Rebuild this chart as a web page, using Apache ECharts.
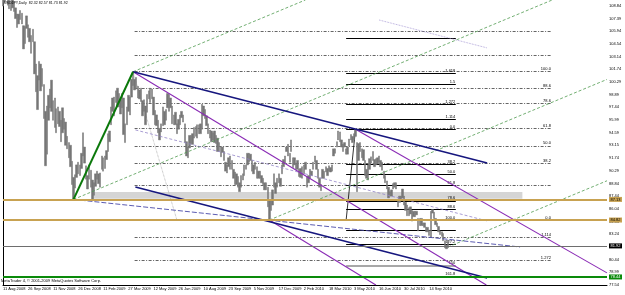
<!DOCTYPE html>
<html><head><meta charset="utf-8">
<script src="https://cdn.jsdelivr.net/npm/echarts@6/dist/echarts.min.js"></script>
<style>html,body{margin:0;padding:0;background:#fff}#c{width:625px;height:295px}</style>
</head><body><div id="c"></div>
<script>
// ---- tick labels ----
const xTickLabels = ["11 Aug 2008","26 Sep 2008","11 Nov 2008","26 Dec 2008","11 Feb 2009","27 Mar 2009","12 May 2009","26 Jun 2009","10 Aug 2009","23 Sep 2009","5 Nov 2009","17 Dec 2009","2 Feb 2010","18 Mar 2010","3 May 2010","16 Jun 2010","30 Jul 2010","14 Sep 2010"];
const yTickLabels = ["77.54","78.99","80.44","81.84","83.24","84.64","86.04","87.44","88.84","90.29","91.74","93.15","94.59","95.99","97.44","98.89","100.29","101.74","103.14","104.54","105.94","107.39","108.84"];
const barsPerLabel = 32;
const barStep = 2; // each entry covers two daily bars
// ---- USDJPY daily range (two-bar groups) ----
const lows = [
108.8,109.2,109.6,108.9,108.5,108.3,108.6,108.2,107.4,106.4,
106.8,107.3,106.8,104.0,104.6,106.3,105.3,104.8,103.5,104.8,
101.2,99.2,97.2,100.5,99.3,99.8,96.2,90.9,92.2,96.0,
97.4,97.0,96.0,95.2,94.6,95.6,95.3,93.6,94.6,95.0,
93.2,92.8,91.8,90.8,88.8,87.13,88.4,89.6,90.0,89.8,
90.6,92.0,91.2,89.4,88.3,89.4,88.5,87.1,87.6,88.6,
89.4,88.9,88.5,90.5,90.3,90.6,91.6,92.5,93.6,95.5,
97.0,96.5,98.0,97.5,97.5,96.7,97.4,94.4,93.5,95.5,
97.0,96.6,98.6,99.9,99.4,99.5,98.5,98.4,98.1,96.5,
97.0,95.5,96.9,98.4,98.0,98.4,96.6,95.5,95.4,94.6,
93.8,94.7,95.4,95.5,96.0,97.4,97.0,97.4,95.6,95.5,
95.5,94.5,95.0,95.5,96.3,95.8,93.5,92.0,91.8,92.9,
93.4,93.3,94.0,94.2,94.0,94.5,94.5,95.0,96.5,96.2,
95.4,94.5,94.0,93.6,93.8,93.5,93.4,92.5,92.5,91.9,
92.4,91.5,90.3,90.1,90.8,90.5,90.5,89.5,88.8,88.8,
88.5,88.0,88.5,89.3,89.8,90.5,91.0,91.3,91.5,90.3,
90.0,90.5,89.5,89.5,89.5,89.0,88.8,88.2,88.2,86.3,
84.82,85.9,86.5,88.5,87.8,88.5,89.0,88.6,90.0,90.8,
91.2,92.5,92.0,91.3,92.5,90.7,91.0,90.5,90.5,89.7,
89.6,89.5,90.0,90.5,88.5,89.0,89.5,89.8,90.5,91.3,
90.5,89.5,88.5,88.1,89.5,89.5,90.2,89.8,90.3,90.2,
90.3,92.0,92.3,93.0,93.8,93.6,93.0,92.5,93.0,92.2,
92.2,93.1,93.8,93.5,93.8,94.2,88.0,91.5,92.5,91.8,
91.5,89.8,89.5,89.3,90.5,91.2,91.5,90.8,91.0,91.1,
91.3,90.8,90.4,89.5,89.0,88.3,87.3,87.5,87.5,88.3,
88.5,88.3,86.3,86.8,87.0,87.3,86.5,85.9,85.3,85.3,
85.5,84.7,85.2,85.2,85.4,83.6,84.2,84.2,84.2,84.0,
83.5,83.5,83.1,82.9,85.6,85.0,84.3,84.1,83.5,83.2,
83.0,82.5,81.7,81.6,81.73];
const highs = [
109.9,110.2,110.6,110.1,109.6,109.4,109.8,109.3,108.6,107.9,
107.9,108.3,108.0,106.6,106.5,107.7,106.7,106.3,105.5,106.2,
104.8,102.3,101.0,102.6,102.3,101.8,100.0,97.0,97.6,98.8,
99.5,100.5,98.2,98.5,97.3,97.5,97.0,96.0,97.4,96.2,
95.8,94.2,93.5,93.2,91.4,89.6,89.9,91.0,91.3,91.0,
92.3,94.6,93.0,90.9,89.8,91.0,90.4,89.3,89.0,90.0,
90.3,90.0,90.1,92.0,91.8,92.0,92.6,94.5,94.8,97.5,
98.5,98.6,99.3,99.6,99.0,98.3,99.0,98.5,95.6,97.5,
98.8,98.6,100.6,101.44,100.6,100.8,99.8,99.4,99.6,98.2,
98.3,97.6,98.9,99.3,99.6,99.5,98.6,97.1,96.6,96.0,
95.1,95.6,97.5,97.0,97.2,99.0,98.9,98.5,97.6,96.6,
96.9,95.6,96.1,96.6,97.0,96.6,95.6,93.6,93.0,94.3,
94.3,94.5,95.2,95.3,95.5,95.5,95.6,97.8,97.6,97.2,
96.5,95.6,94.9,94.8,94.6,94.8,94.3,94.0,93.5,93.0,
93.0,92.5,91.3,91.0,91.8,92.0,91.5,90.5,90.2,90.0,
89.7,89.0,89.8,90.0,91.0,91.0,92.3,92.3,92.2,91.5,
91.0,91.3,90.8,90.3,90.3,89.8,89.5,89.0,89.0,88.5,
87.0,87.0,88.2,90.0,89.0,89.5,90.0,89.5,91.0,91.6,
92.0,93.0,93.3,92.3,93.8,91.8,91.8,91.2,91.5,90.5,
90.6,90.8,91.0,91.3,89.7,89.8,90.5,90.3,91.3,92.0,
91.5,90.5,89.5,88.8,90.5,90.3,90.8,90.6,90.9,90.7,
91.0,92.8,92.8,93.6,94.8,94.7,93.8,93.3,93.5,92.8,
93.0,93.9,94.4,94.2,94.5,94.99,93.5,93.4,93.5,92.8,
92.7,91.5,90.5,91.0,91.7,91.9,92.5,91.6,91.7,91.8,
92.0,91.5,91.3,90.3,89.8,89.2,88.5,88.0,88.2,88.9,
89.0,89.0,87.0,87.5,87.5,88.3,87.5,86.8,86.5,86.2,
86.3,85.9,85.8,85.8,85.8,85.0,85.0,85.0,84.5,84.5,
84.0,84.0,83.7,85.8,86.0,85.7,85.0,84.5,84.1,83.6,
83.5,83.3,82.5,82.0,82.57];
// ---- drawn objects (bar index, price) ----
const trendGreen = [[90,87.13],[166,101.44]];
const channelUpper = [[166,101.44],[618,91.22]];
const channelLower = [[169,88.53],[618,78.32]];
const channelMid = [[169,94.92],[618,84.72]];
const channelTop = [[480,107.24],[618,104.11]];
const baseDashed = [[90,87.13],[660,81.8]];
const forkPurple = [[[166,101.44],[617,77.54]],[[450,94.99],[771,78.9]],[[340,84.82],[476,77.54]]];
const greenDashed = [[[90,87.13],[701,109.48]],[[340,84.82],[771,100.58]],[[166,101.44],[386,109.48]],[[568,81.8],[771,89.22]]];
const fib1Levels = [105.96,103.33,101.44,99.55,97.88,95.09,93.13,91.17,88.74,84.82,82.93,80.30];
const fib1Labels = ['','','100.0','88.6','78.6','61.8','50.0','38.2','','0.0','1.114','1.272'];
const fib1Span = [168,700];
const fib1Diag = [[166,101.44],[222,84.82]];
const fib2Levels = [105.16,101.27,100.07,97.76,96.15,94.99,91.10,89.90,88.70,86.98,85.98,84.82,83.65,82.05,79.73,78.53];
const fib2Labels = ['','1.618','1.5','1.272','1.114','0.0','38.2','50.0','61.8','78.6','88.6','100.0','','127.2','150','161.8'];
const fib2Span = [438,578];
const fib2Diag = [[438,84.82],[450,94.99]];
const supportBand = [[114,87.95],[663,87.2]];
const hLevels = [87.13,84.82,81.92,78.44];
const hLabels = ['87.13','84.82','81.92','78.44'];
const xMax = 771;

const FONT = 'Liberation Sans';
const yTop = 108.84, yBot = 77.54;
const yHalf = (yTop - yBot) / (yTickLabels.length - 1) / 2;
const yMin = Math.round(yBot / yHalf) * yHalf - 1e-6;
const yMax = 109.48;

const hColors = [
  {line:'#c8a251', bg:'#c8a251', fg:'#000', w:2},
  {line:'#c8a251', bg:'#c8a251', fg:'#000', w:2},
  {line:'#6e6e6e', bg:'#000', fg:'#fff', w:1.2},
  {line:'#0a8a0a', bg:'#0a8a0a', fg:'#fff', w:2}
];

function segs(list){ return list.map(c => ({coords:c})); }
function linesSeries(data, style, z, extra){
  return Object.assign({type:'lines', coordinateSystem:'cartesian2d', silent:true, z:z,
    lineStyle:Object.assign({opacity:1, curveness:0}, style), data:data, animation:false}, extra||{});
}

const chart = echarts.init(document.getElementById('c'), null, {renderer:'canvas'});
const option = {
  animation:false,
  backgroundColor:'#fff',
  title:[
    {text:'USDJPY,Daily  82.32 82.57 81.73 81.92', left:4, top:1, padding:0,
     textStyle:{fontSize:3.6, fontWeight:'normal', color:'#000', fontFamily:FONT}},
    {text:'MetaTrader 4, © 2001-2009 MetaQuotes Software Corp.', left:1, top:279, padding:0,
     textStyle:{fontSize:4, fontWeight:'normal', color:'#000', fontFamily:FONT}}
  ],
  grid:{left:0, right:18, top:0, bottom:10, containLabel:false},
  xAxis:{type:'value', min:0, max:xMax, interval:barsPerLabel,
    axisLine:{show:true, lineStyle:{color:'#000', width:1}},
    axisTick:{show:false}, splitLine:{show:false},
    axisLabel:{fontSize:4, color:'#000', margin:2, align:'left', fontFamily:FONT,
      formatter:function(v){ const k = Math.round(v / barsPerLabel); return Math.abs(v - k*barsPerLabel) < 0.01 && k < xTickLabels.length ? xTickLabels[k] : ''; }}},
  yAxis:{type:'value', position:'right', min:yMin, max:yMax, interval:yHalf, scale:true,
    axisLine:{show:true, lineStyle:{color:'#000', width:1}},
    axisTick:{show:false}, splitLine:{show:false},
    axisLabel:{fontSize:4, color:'#000', margin:2, fontFamily:FONT,
      formatter:function(v){ const k2 = Math.round((v - yBot) / yHalf); if (Math.abs(v - (yBot + k2*yHalf)) > 0.01 || k2 % 2 !== 0) return ''; return yTickLabels[k2/2] || ''; }}},
  series:[
    // support band
    {type:'line', data:[[supportBand[0][0], supportBand[0][1]]], showSymbol:false, z:1, silent:true,
     lineStyle:{width:0},
     markArea:{silent:true, itemStyle:{color:'#d5d5d5', opacity:1},
       data:[[{coord:supportBand[0]},{coord:supportBand[1]}]]}},
    // fib retracement 1 (dash-dot)
    linesSeries(fib1Levels.map((p,i)=>({coords:[[fib1Span[0],p],[fib1Span[1],p]], name:fib1Labels[i]})),
      {color:'#222', width:0.7, type:[3,1.5,1,1.5]}, 2,
      {label:{show:true, position:'insideEndTop', formatter:'{b}', fontSize:4, color:'#000', distance:0.5, fontFamily:FONT}}),
    linesSeries(segs([fib1Diag]), {color:'#999', width:0.7, type:'dotted'}, 2),
    // fib retracement 2 (solid)
    linesSeries(fib2Levels.map((p,i)=>({coords:[[fib2Span[0],p],[fib2Span[1],p]], name:fib2Labels[i],
        lineStyle: fib2Labels[i]==='150' ? {color:'#8a8a8a', width:1.6, opacity:1} : undefined})),
      {color:'#000', width:1}, 2,
      {label:{show:true, position:'insideEndTop', formatter:'{b}', fontSize:4, color:'#000', distance:0.5, fontFamily:FONT}}),
    linesSeries(segs([fib2Diag]), {color:'#000', width:0.8}, 2),
    // price bars
    {type:'candlestick', z:3, barWidth:1.9, silent:true, encode:{x:0, y:[1,2,3,4]},
     data: lows.map((l,i)=>[i*barStep, l, highs[i], l, highs[i]]),
     itemStyle:{color:'#767676', color0:'#767676', borderColor:'#767676', borderColor0:'#767676', borderWidth:0.5}},
    // trend objects
    linesSeries(segs(greenDashed), {color:'#4f9a4f', width:0.8, type:[3,2]}, 4),
    linesSeries(segs([baseDashed]), {color:'#4a4aa8', width:0.9, type:[5,2]}, 4),
    linesSeries(segs([channelMid]), {color:'#9384c8', width:0.8, type:[3,2]}, 4),
    linesSeries(segs([channelTop]), {color:'#a090d0', width:0.8, type:'dotted'}, 4),
    linesSeries(segs(forkPurple), {color:'#8a2bb5', width:1.1}, 4),
    linesSeries(segs([channelUpper, channelLower]), {color:'#16167e', width:1.6}, 4),
    linesSeries(segs([trendGreen]), {color:'#0a780a', width:2}, 4),
    // horizontal levels with price tags
    linesSeries(hLevels.map((p,i)=>({coords:[[0,p],[xMax,p]], name:hLabels[i],
        lineStyle:{color:hColors[i].line, width:hColors[i].w, opacity:1},
        label:{backgroundColor:hColors[i].bg, color:hColors[i].fg}})),
      {color:'#000', width:1}, 5,
      {clip:false, label:{show:true, position:'end', formatter:'{b}', fontSize:4, distance:2, padding:[0.5,1.5,0.5,1.5], fontFamily:FONT}})
  ]
};
chart.setOption(option);
</script>
</body></html>
